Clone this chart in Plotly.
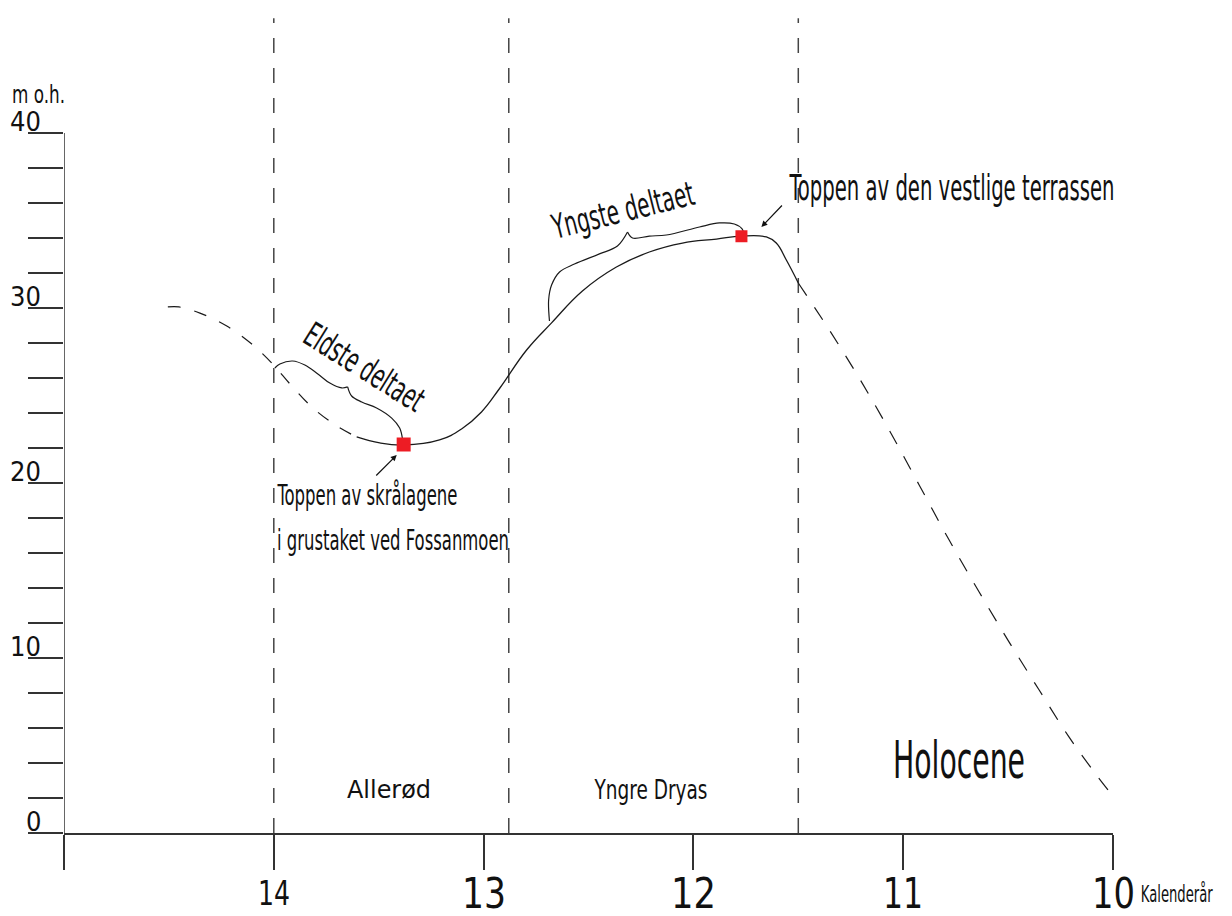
import json
import plotly.graph_objects as go

FONT = "DejaVu Sans Condensed, DejaVu Sans, sans-serif"

# Relative sea level curve (ka BP, m o.h.)
early_year = [14.505, 14.452, 14.352, 14.224, 14.105, 14.010, 13.914, 13.814, 13.700, 13.605]
early_height = [30.06, 30.06, 29.71, 28.97, 27.94, 26.86, 25.54, 24.29, 23.26, 22.63]

main_year = [13.605, 13.495, 13.381, 13.210, 13.105, 13.010, 12.924, 12.795, 12.676,
             12.529, 12.367, 12.210, 12.052, 11.890, 11.771, 11.652, 11.605, 11.557, 11.500]
main_height = [22.63, 22.29, 22.17, 22.46, 23.09, 24.06, 25.40, 27.60, 29.15,
               30.97, 32.34, 33.20, 33.71, 33.94, 34.11, 34.06, 33.71, 32.74, 31.43]

late_year = [11.500, 11.352, 11.210, 11.067, 10.924, 10.781, 10.638, 10.495, 10.352,
             10.210, 10.090, 10.005]
late_height = [31.43, 28.74, 26.00, 23.03, 19.89, 16.74, 13.77, 10.91, 8.17,
               5.49, 3.49, 2.17]

# Dated points
point_year = [13.381, 11.771]
point_height = [22.2, 34.1]

# Braces marking the two deltas (left half, right half meeting at the tip)
old_brace_a_year = [13.995, 13.971, 13.910, 13.852, 13.790, 13.733, 13.676, 13.648]
old_brace_a_height = [26.57, 26.80, 26.97, 26.74, 26.23, 25.71, 25.43, 25.49]
old_brace_b_year = [13.648, 13.629, 13.581, 13.510, 13.438, 13.400, 13.386]
old_brace_b_height = [25.49, 24.97, 24.63, 24.29, 23.71, 23.14, 22.46]

young_brace_a_year = [12.686, 12.690, 12.676, 12.638, 12.567, 12.448, 12.362, 12.314]
young_brace_a_height = [29.26, 30.46, 31.31, 32.06, 32.51, 33.09, 33.54, 34.34]
young_brace_b_year = [12.314, 12.290, 12.210, 12.129, 11.971, 11.876, 11.805, 11.767, 11.757]
young_brace_b_height = [34.34, 34.00, 34.11, 34.17, 34.63, 34.86, 34.80, 34.51, 34.11]

# Chronozone boundaries (ka)
period_bounds = [14.0, 12.88, 11.5]

x_ticks = [15, 14, 13, 12, 11, 10]
x_labels = ["", "14", "13", "12", "11", "10"]
y_ticks = list(range(0, 41, 2))
y_labels = [0, 10, 20, 30, 40]

X_RANGE = [15, 10]
Y_RANGE = [0, 46.857]
XLAB_Y = -0.0735  # paper position of the year labels

fig = go.Figure()

line_col = "#1a1a1a"
fig.add_trace(go.Scatter(x=early_year, y=early_height, mode="lines",
                         line=dict(color=line_col, width=1.2, dash="13px,14px", shape="spline"),
                         hoverinfo="skip"))
fig.add_trace(go.Scatter(x=main_year, y=main_height, mode="lines",
                         line=dict(color=line_col, width=1.3, shape="spline", smoothing=1.2),
                         hoverinfo="skip"))
fig.add_trace(go.Scatter(x=late_year, y=late_height, mode="lines",
                         line=dict(color=line_col, width=1.2, dash="15px,14px", shape="spline"),
                         hoverinfo="skip"))
for bx, by in [(old_brace_a_year, old_brace_a_height), (old_brace_b_year, old_brace_b_height),
               (young_brace_a_year, young_brace_a_height), (young_brace_b_year, young_brace_b_height)]:
    fig.add_trace(go.Scatter(x=bx, y=by, mode="lines",
                             line=dict(color=line_col, width=1.2, shape="spline"),
                             hoverinfo="skip"))
fig.add_trace(go.Scatter(x=point_year, y=point_height, mode="markers",
                         marker=dict(symbol="square", size=[14, 12], color="#ed1c24",
                                     opacity=1, line=dict(width=0)),
                         hoverinfo="skip"))

# Period boundaries
for b in period_bounds:
    fig.add_shape(type="line", xref="x", yref="y", x0=b, x1=b, y0=0, y1=Y_RANGE[1] - 0.3,
                  line=dict(color="#444", width=1.5, dash="15px,15px"), layer="below")

# Vertical axis line (only up to 40)
fig.add_shape(type="line", xref="x", yref="y", x0=15, x1=15, y0=0, y1=40,
              line=dict(color="#333", width=1.5))

ann = []
fit = []  # per annotation: target set width of the lettering in px, or None


def label(text, size, width=None, side=0, **kw):
    d = dict(text=text, showarrow=False, xanchor={-1: "left", 0: "center", 1: "right"}[side],
             yanchor=kw.pop("yanchor", "middle"), font=dict(family=FONT, size=size, color="#111"))
    if width:
        d["width"] = width + 4
    d.update(kw)
    ann.append(d)
    fit.append(width)


# y tick labels
for v in y_labels:
    label(str(v), 27, side=1, x=0, xref="paper", xshift=-21, y=v, yref="y", yshift=12,
          height=24)
label("m o.h.", 25, 53, x=0, xref="paper", xshift=-25.5, y=42.25, yref="y", height=24)

# x tick labels
x_label_sizes = [0, 34, 42, 42, 42, 42]
x_label_widths = [0, 32, 44, 45, 40, 43]
for v, t, s, w in zip(x_ticks, x_labels, x_label_sizes, x_label_widths):
    if t:
        label(t, s, w, x=v, xref="x", y=XLAB_Y, yref="paper", height=38)
label("Kalenderår", 23, 72, side=-1, x=10, xref="x", xshift=24, y=XLAB_Y, yref="paper")

# Period names
label("Allerød", 25, 84, x=13.452, y=2.46)
label("Yngre Dryas", 27, 113, x=12.205, y=2.46)
label("Holocene", 52, 132, x=10.733, y=4.17)

# Delta labels
label("Eldste deltaet", 34, 135, x=13.567, y=26.63, textangle=32)
label("Yngste deltaet", 34, 145, x=12.338, y=35.6, textangle=-14)

# Point annotations
label("Toppen av skrålagene", 28, 180, side=-1, x=14.0, xshift=-1, y=19.31)
label("i grustaket ved Fossanmoen", 28, 232, side=-1, x=14.0, xshift=-1, y=16.69)
label("Toppen av den vestlige terrassen", 36, 325, side=-1, x=11.552, xshift=-2, y=36.86)

# Arrows to the dated points
ann.append(dict(x=point_year[0] + 0.033, y=point_height[0] - 0.6, ax=-22, ay=22, text="",
                showarrow=True, arrowhead=2, arrowsize=1, arrowwidth=1.2,
                arrowcolor="#111", standoff=0))
fit.append(None)
ann.append(dict(x=point_year[1] - 0.095, y=point_height[1] + 0.53, ax=22, ay=-23, text="",
                showarrow=True, arrowhead=2, arrowsize=1, arrowwidth=1.2,
                arrowcolor="#111", standoff=0))
fit.append(None)

fig.update_layout(
    width=1232, height=916,
    margin=dict(l=64, r=119, t=13, b=83),
    paper_bgcolor="white", plot_bgcolor="white",
    showlegend=False,
    annotations=ann,
    xaxis=dict(range=X_RANGE, tickvals=x_ticks, showticklabels=False,
               ticks="outside", ticklen=35, tickwidth=1.5, tickcolor="#333",
               showline=True, linecolor="#333", linewidth=1.5,
               showgrid=False, zeroline=False, fixedrange=True),
    yaxis=dict(range=Y_RANGE, tickvals=y_ticks, showticklabels=False,
               ticks="outside", ticklen=35, tickwidth=1.5, tickcolor="#333",
               showline=False, showgrid=False, zeroline=False, fixedrange=True),
)

# Narrow the annotation lettering to a condensed set width inside its (fixed-width) box.
condense_js = """
var gd = document.getElementById('{plot_id}');
var fits = %s;
gd.querySelectorAll('g.annotation').forEach(function (g) {
  var w = fits[+g.getAttribute('data-index')];
  if (!w) return;
  var t = g.querySelector('text.annotation-text');
  if (!t) return;
  t.setAttribute('textLength', w);
  t.setAttribute('lengthAdjust', 'spacingAndGlyphs');
});
""" % json.dumps(fit)

fig.write_html("out.html", post_script=condense_js)
